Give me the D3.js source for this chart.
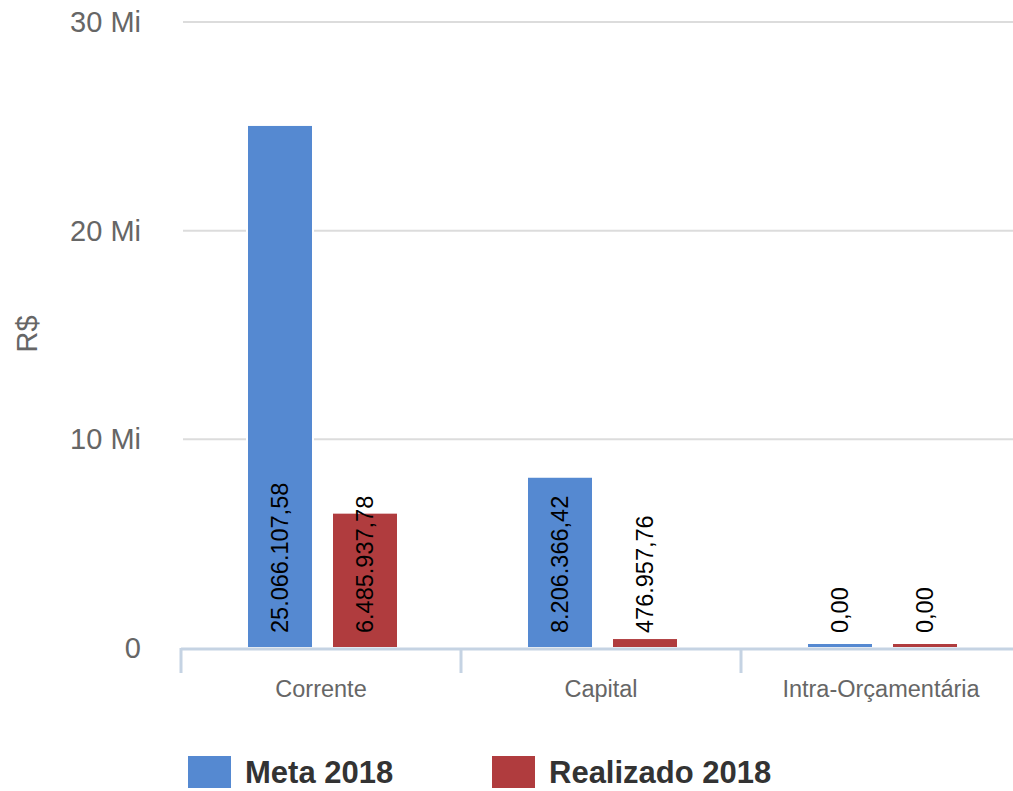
<!DOCTYPE html>
<html>
<head>
<meta charset="UTF-8">
<title>Meta x Realizado 2018</title>
<style>
  html, body { margin: 0; padding: 0; background: #fff; }
  svg { display: block; font-family: "Liberation Sans", Arial, sans-serif; }
</style>
</head>
<body>
<svg width="1013" height="791"></svg>
<script src="https://d3js.org/d3.v7.min.js"></script>
<script>
// data
var categories = ["Corrente", "Capital", "Intra-Orçamentária"];
var series = ["Meta 2018", "Realizado 2018"];
var meta = [25066107.58, 8206366.42, 0];
var realizado = [6485937.78, 476957.76, 0];
var yTicks = [0, 10000000, 20000000, 30000000];
var colors = ["#5589d1", "#b03c3e"];

var svg = d3.select("svg");

var ptBR = d3.formatLocale({ decimal: ",", thousands: ".", grouping: [3], currency: ["R$", ""] });
var fmt = ptBR.format(",.2f");

var x0 = d3.scaleBand().domain(categories).range([181, 1021]).padding(0);
var x1 = d3.scaleBand().domain(series).range([66, 217]).paddingInner(19 / 85).paddingOuter(0);
var y = d3.scaleLinear().domain([0, 30000000]).range([648, 22]);
var color = d3.scaleOrdinal().domain(series).range(colors);

// gridlines
svg.append("g")
  .selectAll("line")
  .data(yTicks.filter(function (d) { return d > 0; }))
  .join("line")
  .attr("x1", 183).attr("x2", 1013)
  .attr("y1", function (d) { return y(d); })
  .attr("y2", function (d) { return y(d); })
  .attr("stroke", "#dcdcdc")
  .attr("stroke-width", 2);

// y tick labels
svg.append("g")
  .selectAll("text")
  .data(yTicks)
  .join("text")
  .attr("x", 141)
  .attr("y", function (d) { return y(d) + 10; })
  .attr("text-anchor", "end")
  .attr("fill", "#666")
  .style("font-size", "29px")
  .text(function (d) { return d === 0 ? "0" : (d / 1e6) + " Mi"; });

// y title
svg.append("text")
  .attr("transform", "translate(37,334) rotate(-90)")
  .attr("text-anchor", "middle")
  .attr("fill", "#666")
  .style("font-size", "29px")
  .text("R$");

// rows
var rows = categories.map(function (c, i) {
  return { cat: c, values: [ { s: series[0], v: meta[i] }, { s: series[1], v: realizado[i] } ] };
});

var groups = svg.append("g")
  .selectAll("g")
  .data(rows)
  .join("g")
  .attr("transform", function (d) { return "translate(" + x0(d.cat) + ",0)"; });

groups.selectAll("rect")
  .data(function (d) { return d.values; })
  .join("rect")
  .attr("x", function (d) { return x1(d.s); })
  .attr("width", x1.bandwidth())
  .attr("y", function (d) { return Math.min(y(d.v), y(0) - 5); })
  .attr("height", function (d) { return Math.max(y(0) - y(d.v), 5); })
  .attr("fill", function (d) { return color(d.s); })
  .attr("stroke", "#fff")
  .attr("stroke-width", 2);

groups.selectAll("text")
  .data(function (d) { return d.values; })
  .join("text")
  .attr("transform", function (d) {
    return "translate(" + (x1(d.s) + x1.bandwidth() / 2 + 8) + "," + (y(0) - 15) + ") rotate(-90)";
  })
  .attr("text-anchor", "start")
  .attr("fill", "#000")
  .style("font-size", "23.5px")
  .text(function (d) { return fmt(d.v); });

// x axis
var axis = svg.append("g");
axis.append("line")
  .attr("x1", 181).attr("x2", 1013)
  .attr("y1", y(0) + 1).attr("y2", y(0) + 1)
  .attr("stroke", "#c5d3e3")
  .attr("stroke-width", 3);
axis.selectAll("line.tick")
  .data(categories)
  .join("line")
  .attr("class", "tick")
  .attr("x1", function (d) { return x0(d); })
  .attr("x2", function (d) { return x0(d); })
  .attr("y1", y(0)).attr("y2", 673)
  .attr("stroke", "#c5d3e3")
  .attr("stroke-width", 3);
axis.selectAll("text")
  .data(categories)
  .join("text")
  .attr("x", function (d) { return x0(d) + x0.bandwidth() / 2; })
  .attr("y", 697)
  .attr("text-anchor", "middle")
  .attr("fill", "#666")
  .style("font-size", "23.5px")
  .text(function (d) { return d; });

// legend
var leg = svg.append("g")
  .selectAll("g")
  .data(series)
  .join("g")
  .attr("transform", function (d, i) { return "translate(" + [188, 492][i] + ",756)"; });
leg.append("rect")
  .attr("width", 43).attr("height", 32)
  .attr("fill", function (d) { return color(d); });
leg.append("text")
  .attr("x", 57).attr("y", 27)
  .attr("fill", "#333")
  .style("font-size", "31px")
  .style("font-weight", "bold")
  .text(function (d) { return d; });
</script>
</body>
</html>
